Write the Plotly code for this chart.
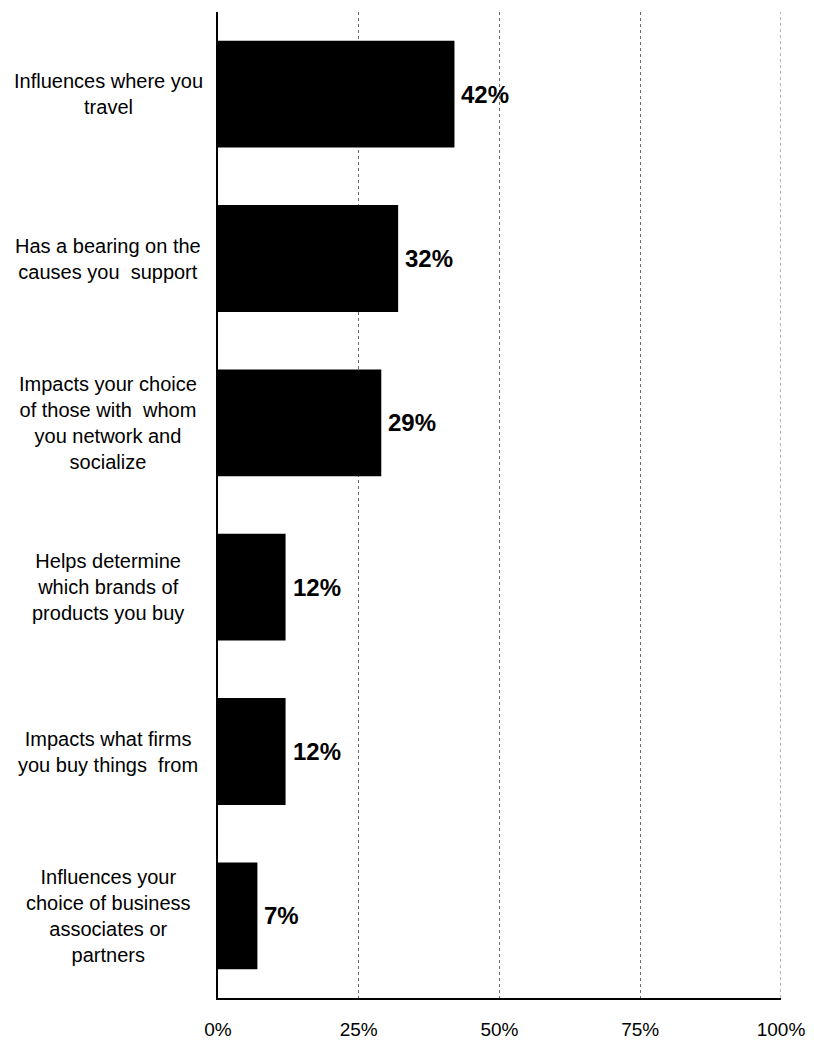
import plotly.graph_objects as go

categories = [
    "Influences where you<br>travel",
    "Has a bearing on the<br>causes you  support",
    "Impacts your choice<br>of those with  whom<br>you network and<br>socialize",
    "Helps determine<br>which brands of<br>products you buy",
    "Impacts what firms<br>you buy things  from",
    "Influences your<br>choice of business<br>associates or<br>partners",
]
values = [42, 32, 29, 12, 12, 7]
tick_vals = [0, 25, 50, 75, 100]
tick_text = ["0%", "25%", "50%", "75%", "100%"]

fig = go.Figure(
    go.Bar(
        x=values,
        y=list(range(len(categories))),
        orientation="h",
        marker=dict(color="#000000", line=dict(width=0)),
        hoverinfo="skip",
    )
)

# value labels just past the end of each bar
for i, v in enumerate(values):
    fig.add_annotation(
        x=v, xref="x", y=i, yref="y",
        text=f"{v}%", showarrow=False,
        xanchor="left", yanchor="middle", xshift=5,
        font=dict(family="Liberation Sans, Arial, sans-serif", size=24, color="#000000", weight="bold"),
    )

# category labels, centred multi-line text to the left of the axis
for i, label in enumerate(categories):
    fig.add_annotation(
        x=-0.195, xref="paper", y=i, yref="y",
        text=label, showarrow=False,
        xanchor="center", yanchor="middle", align="center",
        font=dict(family="Liberation Sans, Arial, sans-serif", size=20, color="#000000"),
    )

# dotted gridline at the right edge of the scale
fig.add_shape(
    type="line", xref="x", yref="paper",
    x0=100, x1=100, y0=0, y1=1,
    line=dict(color="#6a6a6a", width=1, dash="dot"),
)

fig.update_layout(
    width=814,
    height=1042,
    margin=dict(l=218, r=33, t=12, b=44),
    paper_bgcolor="white",
    plot_bgcolor="white",
    bargap=0.35,
    showlegend=False,
    font=dict(family="Liberation Sans, Arial, sans-serif", color="#000000"),
)

fig.update_xaxes(
    range=[0, 100],
    tickvals=tick_vals,
    ticktext=tick_text,
    showgrid=True,
    gridcolor="#6a6a6a",
    griddash="dot",
    gridwidth=1,
    zeroline=False,
    showline=True,
    linecolor="#000000",
    linewidth=2,
    ticks="",
    automargin=False,
    ticklabelstandoff=13,
    tickfont=dict(family="Liberation Sans, Arial, sans-serif", size=19, color="#000000"),
)

fig.update_yaxes(
    range=[5.5, -0.5],
    showticklabels=False,
    showgrid=False,
    zeroline=False,
    showline=True,
    linecolor="#000000",
    linewidth=2,
    ticks="",
    automargin=False,
)

fig.write_html("out.html")
